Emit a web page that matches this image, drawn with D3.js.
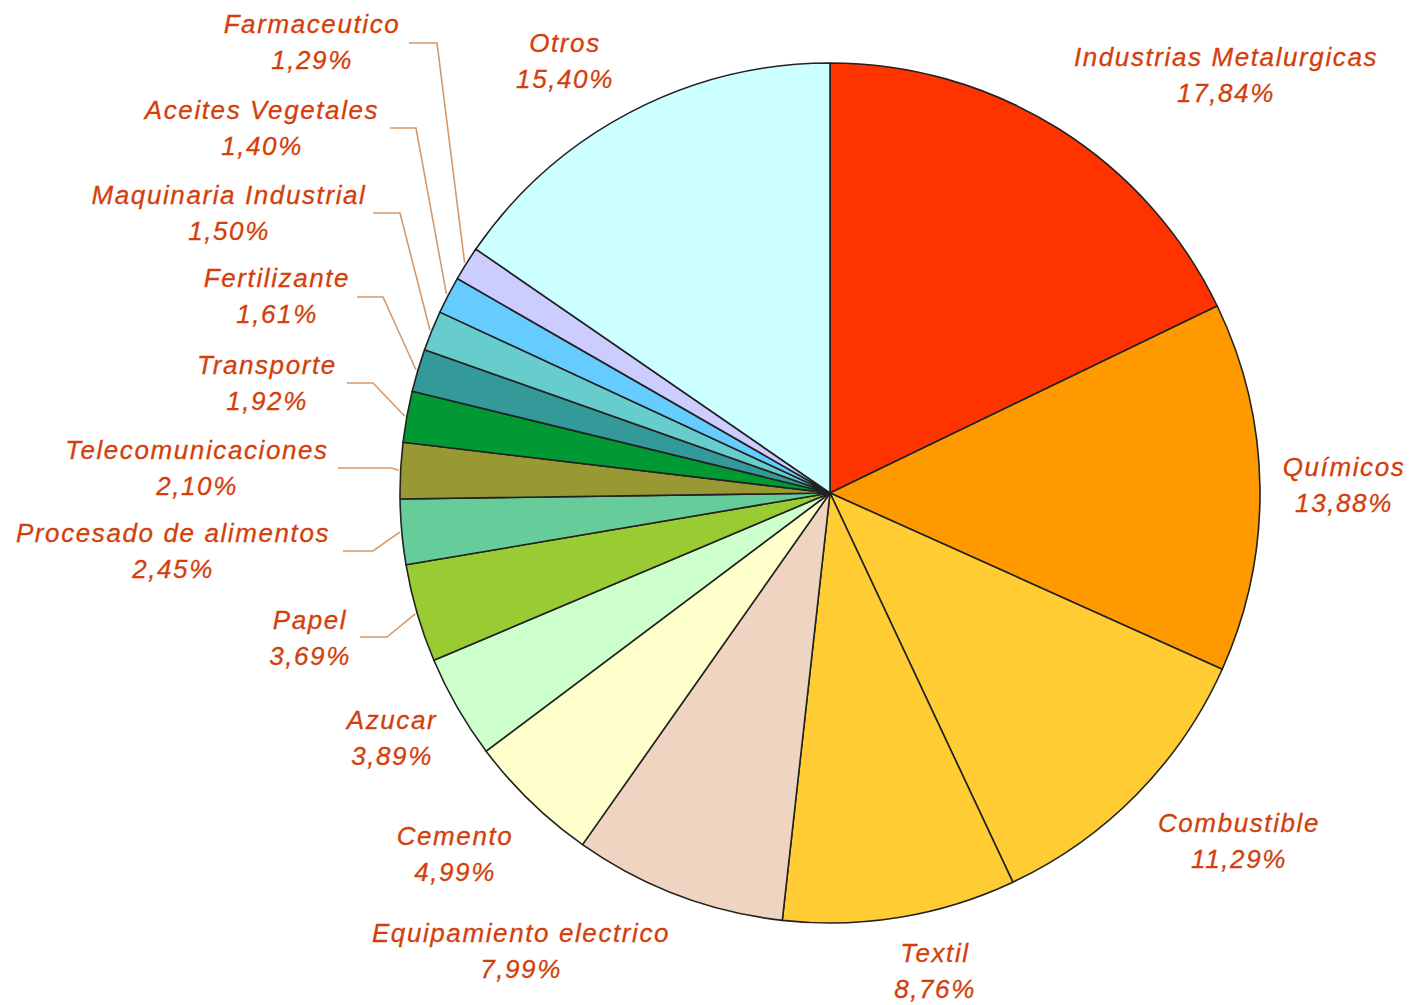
<!DOCTYPE html>
<html>
<head>
<meta charset="utf-8">
<script src="https://cdn.jsdelivr.net/npm/d3@7"></script>
<style>
  body { margin: 0; background: #fff; }
  .lbl { font-family: "Liberation Sans", Arial, sans-serif; font-style: italic; font-size: 26px; letter-spacing: 1.6px; fill: #d33f0c; stroke: #d33f0c; stroke-width: 0.3px; }
</style>
</head>
<body>
<svg id="chart" width="1414" height="1005"></svg>
<script>
// sectors, clockwise from 12 o'clock
const categories = [
  "Industrias Metalurgicas", "Químicos", "Combustible", "Textil",
  "Equipamiento electrico", "Cemento", "Azucar", "Papel",
  "Procesado de alimentos", "Telecomunicaciones", "Transporte",
  "Fertilizante", "Maquinaria Industrial", "Aceites Vegetales",
  "Farmaceutico", "Otros"
];
const shares = [17.84, 13.88, 11.29, 8.76, 7.99, 4.99, 3.89, 3.69,
  2.45, 2.10, 1.92, 1.61, 1.50, 1.40, 1.29, 15.40];
const colors = [
  "#ff3300", "#ff9900", "#ffcc33", "#ffcc33", "#f0d4c2", "#ffffcc",
  "#ccffcc", "#99cc33", "#66cc99", "#999933", "#009933", "#339999",
  "#66cccc", "#66ccff", "#ccccff", "#ccffff"
];

// label layout: [center x, first line middle y]
const labelPos = [
  [1226, 57], [1344, 467], [1239, 823], [935, 953], [521, 933],
  [455, 836], [392, 720], [310, 620], [173, 533], [197, 450],
  [267, 365], [277, 278], [229, 195], [262, 110], [312, 24], [565, 43]
];
// leader lines for the small slices: [start x, elbow x, y], null = none
const leaders = [
  null, null, null, null, null, null, null,
  [360, 387, 637], [343, 373, 551], [338, 392, 468], [347, 373, 383],
  [357, 383, 297], [373, 400, 213], [390, 416, 128], [409, 437, 43], null
];

const cx = 830, cy = 493, R = 430;
const svg = d3.select("#chart");
const fmt = v => d3.format(".2f")(v).replace(".", ",") + "%";

const pie = d3.pie().sort(null).value(d => d);
const arcs = pie(shares);
const arc = d3.arc().innerRadius(0).outerRadius(R);
const edge = d3.arc().innerRadius(R + 2).outerRadius(R + 2);

const g = svg.append("g").attr("transform", `translate(${cx},${cy})`);

g.selectAll("path.slice")
  .data(arcs)
  .enter()
  .append("path")
  .attr("class", "slice")
  .attr("d", arc)
  .attr("fill", (d, i) => colors[i])
  .attr("stroke", "#222")
  .attr("stroke-width", 1.6)
  .attr("stroke-linejoin", "round");

// leader lines
arcs.forEach((d, i) => {
  const l = leaders[i];
  if (!l) return;
  const [ex, ey] = edge.centroid(d);
  svg.append("polyline")
    .attr("points", `${l[0]},${l[2]} ${l[1]},${l[2]} ${cx + ex},${cy + ey}`)
    .attr("fill", "none")
    .attr("stroke", "#d4996a")
    .attr("stroke-width", 1.6);
});

// labels
const labels = svg.selectAll("g.label")
  .data(categories)
  .enter()
  .append("g")
  .attr("class", "label");

labels.append("text")
  .attr("class", "lbl")
  .attr("x", (d, i) => labelPos[i][0])
  .attr("y", (d, i) => labelPos[i][1] + 9)
  .attr("text-anchor", "middle")
  .text(d => d);

labels.append("text")
  .attr("class", "lbl")
  .attr("x", (d, i) => labelPos[i][0])
  .attr("y", (d, i) => labelPos[i][1] + 45)
  .attr("text-anchor", "middle")
  .text((d, i) => fmt(shares[i]));
</script>
</body>
</html>
